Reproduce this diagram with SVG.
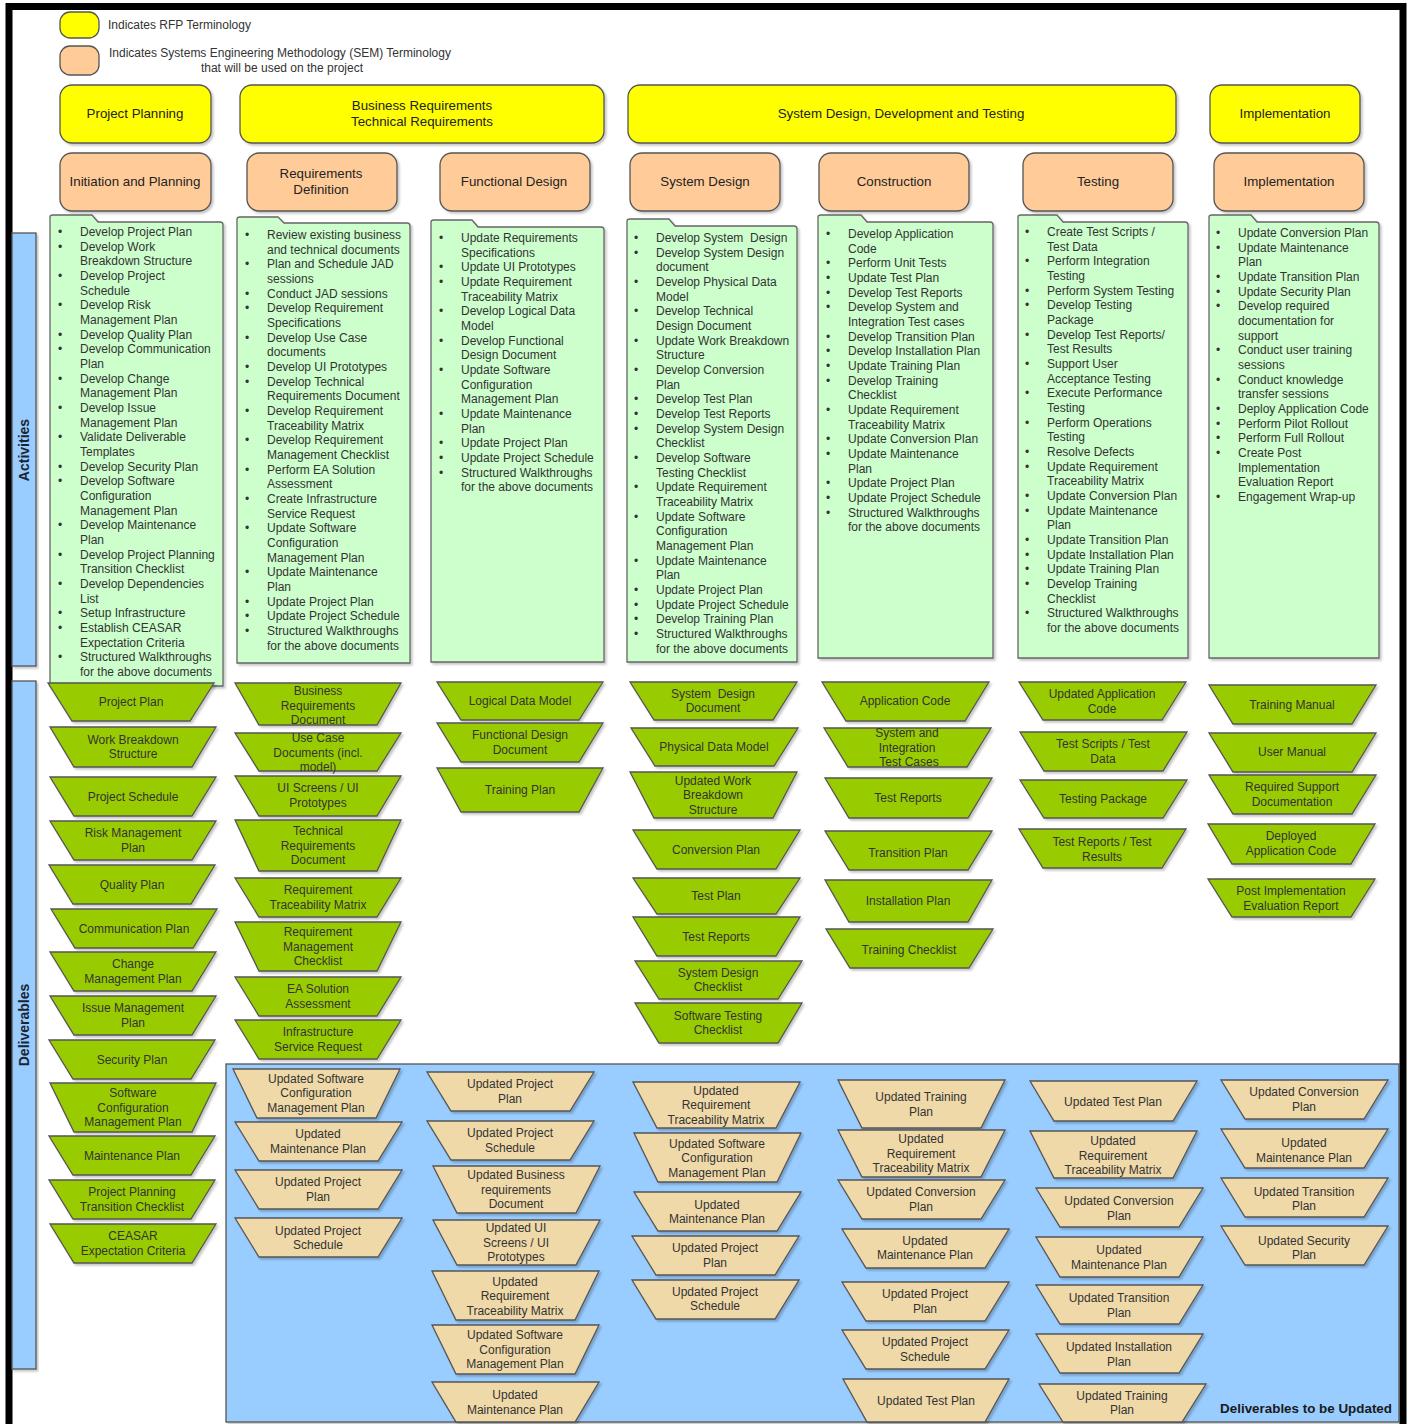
<svg xmlns="http://www.w3.org/2000/svg" width="1410" height="1424" viewBox="0 0 1410 1424">
<defs>
<filter id="ds" x="-5%" y="-5%" width="115%" height="115%"><feDropShadow dx="2" dy="2" stdDeviation="1" flood-color="#000" flood-opacity="0.22"/></filter>
</defs>
<style>
.sh{filter:url(#ds)}
.yl{fill:#ffff00;stroke:#555;stroke-width:1.3}
.or{fill:#ffcc99;stroke:#555;stroke-width:1.3}
.ac{fill:#ccffcc;stroke:#666;stroke-width:1.3}
.gd{fill:#99cc00;stroke:#555;stroke-width:1.3}
.td{fill:#f0d9a8;stroke:#555;stroke-width:1.3}
.bl{fill:#99ccff;stroke:#555;stroke-width:1.3}
text{font-family:"Liberation Sans",Arial,sans-serif}
.t{font-size:12px;fill:#333}
.c{text-anchor:middle}
.h{font-size:13.3px;fill:#222}
.lab{font-size:14px;font-weight:bold;fill:#1a2533}
</style>
<rect x="9" y="6.5" width="1394" height="1440" fill="#fff" stroke="#000" stroke-width="7"/>

<g id="legend">
<rect class="yl" x="60" y="12" width="39" height="26" rx="10"/>
<text class="t" x="108" y="29">Indicates RFP Terminology</text>
<rect class="or" x="60" y="46" width="39" height="29" rx="10"/>
<text class="t" x="109" y="57">Indicates Systems Engineering Methodology (SEM) Terminology</text>
<text class="t c" x="282" y="72">that will be used on the project</text>
</g>

<g id="rfp-project-planning"><rect class="yl sh" x="60" y="85" width="151" height="58" rx="12"/><text class="h c" x="135" y="118">Project Planning</text></g>
<g id="rfp-requirements"><rect class="yl sh" x="240" y="85" width="364" height="58" rx="12"/><text class="h c" x="422" y="110">Business Requirements<tspan x="422" dy="16">Technical Requirements</tspan></text></g>
<g id="rfp-sddt"><rect class="yl sh" x="628" y="85" width="548" height="58" rx="12"/><text class="h c" x="901" y="118">System Design, Development and Testing</text></g>
<g id="rfp-implementation"><rect class="yl sh" x="1210" y="85" width="150" height="58" rx="12"/><text class="h c" x="1285" y="118">Implementation</text></g>

<g id="sem-initiation"><rect class="or sh" x="60" y="153" width="151" height="58" rx="12"/><text class="h c" x="135" y="186">Initiation and Planning</text></g>
<g id="sem-requirements"><rect class="or sh" x="247" y="153" width="150" height="58" rx="12"/><text class="h c" x="321" y="178">Requirements<tspan x="321" dy="16">Definition</tspan></text></g>
<g id="sem-functional"><rect class="or sh" x="440" y="153" width="150" height="58" rx="12"/><text class="h c" x="514" y="186">Functional Design</text></g>
<g id="sem-system-design"><rect class="or sh" x="630" y="153" width="150" height="58" rx="12"/><text class="h c" x="705" y="186">System Design</text></g>
<g id="sem-construction"><rect class="or sh" x="819" y="153" width="150" height="58" rx="12"/><text class="h c" x="894" y="186">Construction</text></g>
<g id="sem-testing"><rect class="or sh" x="1023" y="153" width="150" height="58" rx="12"/><text class="h c" x="1098" y="186">Testing</text></g>
<g id="sem-implementation"><rect class="or sh" x="1214" y="153" width="150" height="58" rx="12"/><text class="h c" x="1289" y="186">Implementation</text></g>

<g id="side-labels">
<rect class="bl sh" x="12" y="233" width="24" height="433"/>
<text class="lab c" transform="translate(29 450) rotate(-90)">Activities</text>
<rect class="bl sh" x="12" y="681" width="24" height="688"/>
<text class="lab c" transform="translate(29 1025) rotate(-90)">Deliverables</text>
</g>

<g id="updated-area">
<rect class="bl sh" x="226" y="1064" width="1173" height="358"/>
<text x="1392" y="1413" text-anchor="end" style="font-size:13.4px;font-weight:bold;fill:#1a1a1a">Deliverables to be Updated</text>
</g>

<g id="act-initiation">
<path class="ac sh" d="M50,222 L50,217 Q50,215 53,215 L92,215 L98,222 L220,222 Q223,222 223,225 L223,686 L50,686 Z"/>
<text class="t" x="80" y="221.33"><tspan x="58" dy="14.67">•</tspan><tspan x="80">Develop Project Plan</tspan><tspan x="58" dy="14.67">•</tspan><tspan x="80">Develop Work</tspan><tspan x="80" dy="14.67">Breakdown Structure</tspan><tspan x="58" dy="14.67">•</tspan><tspan x="80">Develop Project</tspan><tspan x="80" dy="14.67">Schedule</tspan><tspan x="58" dy="14.67">•</tspan><tspan x="80">Develop Risk</tspan><tspan x="80" dy="14.67">Management Plan</tspan><tspan x="58" dy="14.67">•</tspan><tspan x="80">Develop Quality Plan</tspan><tspan x="58" dy="14.67">•</tspan><tspan x="80">Develop Communication</tspan><tspan x="80" dy="14.67">Plan</tspan><tspan x="58" dy="14.67">•</tspan><tspan x="80">Develop Change</tspan><tspan x="80" dy="14.67">Management Plan</tspan><tspan x="58" dy="14.67">•</tspan><tspan x="80">Develop Issue</tspan><tspan x="80" dy="14.67">Management Plan</tspan><tspan x="58" dy="14.67">•</tspan><tspan x="80">Validate Deliverable</tspan><tspan x="80" dy="14.67">Templates</tspan><tspan x="58" dy="14.67">•</tspan><tspan x="80">Develop Security Plan</tspan><tspan x="58" dy="14.67">•</tspan><tspan x="80">Develop Software</tspan><tspan x="80" dy="14.67">Configuration</tspan><tspan x="80" dy="14.67">Management Plan</tspan><tspan x="58" dy="14.67">•</tspan><tspan x="80">Develop Maintenance</tspan><tspan x="80" dy="14.67">Plan</tspan><tspan x="58" dy="14.67">•</tspan><tspan x="80">Develop Project Planning</tspan><tspan x="80" dy="14.67">Transition Checklist</tspan><tspan x="58" dy="14.67">•</tspan><tspan x="80">Develop Dependencies</tspan><tspan x="80" dy="14.67">List</tspan><tspan x="58" dy="14.67">•</tspan><tspan x="80">Setup Infrastructure</tspan><tspan x="58" dy="14.67">•</tspan><tspan x="80">Establish CEASAR</tspan><tspan x="80" dy="14.67">Expectation Criteria</tspan><tspan x="58" dy="14.67">•</tspan><tspan x="80">Structured Walkthroughs</tspan><tspan x="80" dy="14.67">for the above documents</tspan></text>
</g>

<g id="act-requirements">
<path class="ac sh" d="M237,223 L237,219 Q237,217 240,217 L278,217 L284,223 L407,223 Q410,223 410,226 L410,663 L237,663 Z"/>
<text class="t" x="267" y="224.33"><tspan x="245" dy="14.67">•</tspan><tspan x="267">Review existing business</tspan><tspan x="267" dy="14.67">and technical documents</tspan><tspan x="245" dy="14.67">•</tspan><tspan x="267">Plan and Schedule JAD</tspan><tspan x="267" dy="14.67">sessions</tspan><tspan x="245" dy="14.67">•</tspan><tspan x="267">Conduct JAD sessions</tspan><tspan x="245" dy="14.67">•</tspan><tspan x="267">Develop Requirement</tspan><tspan x="267" dy="14.67">Specifications</tspan><tspan x="245" dy="14.67">•</tspan><tspan x="267">Develop Use Case</tspan><tspan x="267" dy="14.67">documents</tspan><tspan x="245" dy="14.67">•</tspan><tspan x="267">Develop UI Prototypes</tspan><tspan x="245" dy="14.67">•</tspan><tspan x="267">Develop Technical</tspan><tspan x="267" dy="14.67">Requirements Document</tspan><tspan x="245" dy="14.67">•</tspan><tspan x="267">Develop Requirement</tspan><tspan x="267" dy="14.67">Traceability Matrix</tspan><tspan x="245" dy="14.67">•</tspan><tspan x="267">Develop Requirement</tspan><tspan x="267" dy="14.67">Management Checklist</tspan><tspan x="245" dy="14.67">•</tspan><tspan x="267">Perform EA Solution</tspan><tspan x="267" dy="14.67">Assessment</tspan><tspan x="245" dy="14.67">•</tspan><tspan x="267">Create Infrastructure</tspan><tspan x="267" dy="14.67">Service Request</tspan><tspan x="245" dy="14.67">•</tspan><tspan x="267">Update Software</tspan><tspan x="267" dy="14.67">Configuration</tspan><tspan x="267" dy="14.67">Management Plan</tspan><tspan x="245" dy="14.67">•</tspan><tspan x="267">Update Maintenance</tspan><tspan x="267" dy="14.67">Plan</tspan><tspan x="245" dy="14.67">•</tspan><tspan x="267">Update Project Plan</tspan><tspan x="245" dy="14.67">•</tspan><tspan x="267">Update Project Schedule</tspan><tspan x="245" dy="14.67">•</tspan><tspan x="267">Structured Walkthroughs</tspan><tspan x="267" dy="14.67">for the above documents</tspan></text>
</g>

<g id="act-functional">
<path class="ac sh" d="M431,227 L431,222 Q431,220 434,220 L472,220 L478,227 L601,227 Q604,227 604,230 L604,662 L431,662 Z"/>
<text class="t" x="461" y="227.33"><tspan x="439" dy="14.67">•</tspan><tspan x="461">Update Requirements</tspan><tspan x="461" dy="14.67">Specifications</tspan><tspan x="439" dy="14.67">•</tspan><tspan x="461">Update UI Prototypes</tspan><tspan x="439" dy="14.67">•</tspan><tspan x="461">Update Requirement</tspan><tspan x="461" dy="14.67">Traceability Matrix</tspan><tspan x="439" dy="14.67">•</tspan><tspan x="461">Develop Logical Data</tspan><tspan x="461" dy="14.67">Model</tspan><tspan x="439" dy="14.67">•</tspan><tspan x="461">Develop Functional</tspan><tspan x="461" dy="14.67">Design Document</tspan><tspan x="439" dy="14.67">•</tspan><tspan x="461">Update Software</tspan><tspan x="461" dy="14.67">Configuration</tspan><tspan x="461" dy="14.67">Management Plan</tspan><tspan x="439" dy="14.67">•</tspan><tspan x="461">Update Maintenance</tspan><tspan x="461" dy="14.67">Plan</tspan><tspan x="439" dy="14.67">•</tspan><tspan x="461">Update Project Plan</tspan><tspan x="439" dy="14.67">•</tspan><tspan x="461">Update Project Schedule</tspan><tspan x="439" dy="14.67">•</tspan><tspan x="461">Structured Walkthroughs</tspan><tspan x="461" dy="14.67">for the above documents</tspan></text>
</g>

<g id="act-system-design">
<path class="ac sh" d="M627,226 L627,221 Q627,219 630,219 L669,219 L675,226 L794,226 Q797,226 797,229 L797,662 L627,662 Z"/>
<text class="t" x="656" y="227.33"><tspan x="634" dy="14.67">•</tspan><tspan x="656">Develop System&#160; Design</tspan><tspan x="634" dy="14.67">•</tspan><tspan x="656">Develop System Design</tspan><tspan x="656" dy="14.67">document</tspan><tspan x="634" dy="14.67">•</tspan><tspan x="656">Develop Physical Data</tspan><tspan x="656" dy="14.67">Model</tspan><tspan x="634" dy="14.67">•</tspan><tspan x="656">Develop Technical</tspan><tspan x="656" dy="14.67">Design Document</tspan><tspan x="634" dy="14.67">•</tspan><tspan x="656">Update Work Breakdown</tspan><tspan x="656" dy="14.67">Structure</tspan><tspan x="634" dy="14.67">•</tspan><tspan x="656">Develop Conversion</tspan><tspan x="656" dy="14.67">Plan</tspan><tspan x="634" dy="14.67">•</tspan><tspan x="656">Develop Test Plan</tspan><tspan x="634" dy="14.67">•</tspan><tspan x="656">Develop Test Reports</tspan><tspan x="634" dy="14.67">•</tspan><tspan x="656">Develop System Design</tspan><tspan x="656" dy="14.67">Checklist</tspan><tspan x="634" dy="14.67">•</tspan><tspan x="656">Develop Software</tspan><tspan x="656" dy="14.67">Testing Checklist</tspan><tspan x="634" dy="14.67">•</tspan><tspan x="656">Update Requirement</tspan><tspan x="656" dy="14.67">Traceability Matrix</tspan><tspan x="634" dy="14.67">•</tspan><tspan x="656">Update Software</tspan><tspan x="656" dy="14.67">Configuration</tspan><tspan x="656" dy="14.67">Management Plan</tspan><tspan x="634" dy="14.67">•</tspan><tspan x="656">Update Maintenance</tspan><tspan x="656" dy="14.67">Plan</tspan><tspan x="634" dy="14.67">•</tspan><tspan x="656">Update Project Plan</tspan><tspan x="634" dy="14.67">•</tspan><tspan x="656">Update Project Schedule</tspan><tspan x="634" dy="14.67">•</tspan><tspan x="656">Develop Training Plan</tspan><tspan x="634" dy="14.67">•</tspan><tspan x="656">Structured Walkthroughs</tspan><tspan x="656" dy="14.67">for the above documents</tspan></text>
</g>

<g id="act-construction">
<path class="ac sh" d="M818,222 L818,217 Q818,215 821,215 L861,215 L867,222 L990,222 Q993,222 993,225 L993,658 L818,658 Z"/>
<text class="t" x="848" y="223.33"><tspan x="826" dy="14.67">•</tspan><tspan x="848">Develop Application</tspan><tspan x="848" dy="14.67">Code</tspan><tspan x="826" dy="14.67">•</tspan><tspan x="848">Perform Unit Tests</tspan><tspan x="826" dy="14.67">•</tspan><tspan x="848">Update Test Plan</tspan><tspan x="826" dy="14.67">•</tspan><tspan x="848">Develop Test Reports</tspan><tspan x="826" dy="14.67">•</tspan><tspan x="848">Develop System and</tspan><tspan x="848" dy="14.67">Integration Test cases</tspan><tspan x="826" dy="14.67">•</tspan><tspan x="848">Develop Transition Plan</tspan><tspan x="826" dy="14.67">•</tspan><tspan x="848">Develop Installation Plan</tspan><tspan x="826" dy="14.67">•</tspan><tspan x="848">Update Training Plan</tspan><tspan x="826" dy="14.67">•</tspan><tspan x="848">Develop Training</tspan><tspan x="848" dy="14.67">Checklist</tspan><tspan x="826" dy="14.67">•</tspan><tspan x="848">Update Requirement</tspan><tspan x="848" dy="14.67">Traceability Matrix</tspan><tspan x="826" dy="14.67">•</tspan><tspan x="848">Update Conversion Plan</tspan><tspan x="826" dy="14.67">•</tspan><tspan x="848">Update Maintenance</tspan><tspan x="848" dy="14.67">Plan</tspan><tspan x="826" dy="14.67">•</tspan><tspan x="848">Update Project Plan</tspan><tspan x="826" dy="14.67">•</tspan><tspan x="848">Update Project Schedule</tspan><tspan x="826" dy="14.67">•</tspan><tspan x="848">Structured Walkthroughs</tspan><tspan x="848" dy="14.67">for the above documents</tspan></text>
</g>

<g id="act-testing">
<path class="ac sh" d="M1018,222 L1018,217 Q1018,215 1021,215 L1057,215 L1063,222 L1185,222 Q1188,222 1188,225 L1188,658 L1018,658 Z"/>
<text class="t" x="1047" y="221.33"><tspan x="1025" dy="14.67">•</tspan><tspan x="1047">Create Test Scripts /</tspan><tspan x="1047" dy="14.67">Test Data</tspan><tspan x="1025" dy="14.67">•</tspan><tspan x="1047">Perform Integration</tspan><tspan x="1047" dy="14.67">Testing</tspan><tspan x="1025" dy="14.67">•</tspan><tspan x="1047">Perform System Testing</tspan><tspan x="1025" dy="14.67">•</tspan><tspan x="1047">Develop Testing</tspan><tspan x="1047" dy="14.67">Package</tspan><tspan x="1025" dy="14.67">•</tspan><tspan x="1047">Develop Test Reports/</tspan><tspan x="1047" dy="14.67">Test Results</tspan><tspan x="1025" dy="14.67">•</tspan><tspan x="1047">Support User</tspan><tspan x="1047" dy="14.67">Acceptance Testing</tspan><tspan x="1025" dy="14.67">•</tspan><tspan x="1047">Execute Performance</tspan><tspan x="1047" dy="14.67">Testing</tspan><tspan x="1025" dy="14.67">•</tspan><tspan x="1047">Perform Operations</tspan><tspan x="1047" dy="14.67">Testing</tspan><tspan x="1025" dy="14.67">•</tspan><tspan x="1047">Resolve Defects</tspan><tspan x="1025" dy="14.67">•</tspan><tspan x="1047">Update Requirement</tspan><tspan x="1047" dy="14.67">Traceability Matrix</tspan><tspan x="1025" dy="14.67">•</tspan><tspan x="1047">Update Conversion Plan</tspan><tspan x="1025" dy="14.67">•</tspan><tspan x="1047">Update Maintenance</tspan><tspan x="1047" dy="14.67">Plan</tspan><tspan x="1025" dy="14.67">•</tspan><tspan x="1047">Update Transition Plan</tspan><tspan x="1025" dy="14.67">•</tspan><tspan x="1047">Update Installation Plan</tspan><tspan x="1025" dy="14.67">•</tspan><tspan x="1047">Update Training Plan</tspan><tspan x="1025" dy="14.67">•</tspan><tspan x="1047">Develop Training</tspan><tspan x="1047" dy="14.67">Checklist</tspan><tspan x="1025" dy="14.67">•</tspan><tspan x="1047">Structured Walkthroughs</tspan><tspan x="1047" dy="14.67">for the above documents</tspan></text>
</g>

<g id="act-implementation">
<path class="ac sh" d="M1209,222 L1209,217 Q1209,215 1212,215 L1251,215 L1257,222 L1376,222 Q1379,222 1379,225 L1379,658 L1209,658 Z"/>
<text class="t" x="1238" y="222.33"><tspan x="1216" dy="14.67">•</tspan><tspan x="1238">Update Conversion Plan</tspan><tspan x="1216" dy="14.67">•</tspan><tspan x="1238">Update Maintenance</tspan><tspan x="1238" dy="14.67">Plan</tspan><tspan x="1216" dy="14.67">•</tspan><tspan x="1238">Update Transition Plan</tspan><tspan x="1216" dy="14.67">•</tspan><tspan x="1238">Update Security Plan</tspan><tspan x="1216" dy="14.67">•</tspan><tspan x="1238">Develop required</tspan><tspan x="1238" dy="14.67">documentation for</tspan><tspan x="1238" dy="14.67">support</tspan><tspan x="1216" dy="14.67">•</tspan><tspan x="1238">Conduct user training</tspan><tspan x="1238" dy="14.67">sessions</tspan><tspan x="1216" dy="14.67">•</tspan><tspan x="1238">Conduct knowledge</tspan><tspan x="1238" dy="14.67">transfer sessions</tspan><tspan x="1216" dy="14.67">•</tspan><tspan x="1238">Deploy Application Code</tspan><tspan x="1216" dy="14.67">•</tspan><tspan x="1238">Perform Pilot Rollout</tspan><tspan x="1216" dy="14.67">•</tspan><tspan x="1238">Perform Full Rollout</tspan><tspan x="1216" dy="14.67">•</tspan><tspan x="1238">Create Post</tspan><tspan x="1238" dy="14.67">Implementation</tspan><tspan x="1238" dy="14.67">Evaluation Report</tspan><tspan x="1216" dy="14.67">•</tspan><tspan x="1238">Engagement Wrap-up</tspan></text>
</g>

<!-- Deliverables: column 1 -->
<g id="d-project-plan"><polygon class="gd sh" points="48,683 214,683 190,721 72,721"/><text class="t c" x="131" y="706">Project Plan</text></g>
<g id="d-wbs"><polygon class="gd sh" points="50,727 216,727 192,767 74,767"/><text class="t c" x="133" y="743.5">Work Breakdown<tspan x="133" dy="14.5">Structure</tspan></text></g>
<g id="d-project-schedule"><polygon class="gd sh" points="50,777 216,777 192,816 74,816"/><text class="t c" x="133" y="800.5">Project Schedule</text></g>
<g id="d-risk"><polygon class="gd sh" points="50,821 216,821 192,860 74,860"/><text class="t c" x="133" y="837">Risk Management<tspan x="133" dy="14.5">Plan</tspan></text></g>
<g id="d-quality"><polygon class="gd sh" points="49,865 215,865 191,904 73,904"/><text class="t c" x="132" y="888.5">Quality Plan</text></g>
<g id="d-communication"><polygon class="gd sh" points="51,909 217,909 193,948 75,948"/><text class="t c" x="134" y="932.5">Communication Plan</text></g>
<g id="d-change"><polygon class="gd sh" points="50,952 216,952 192,991 74,991"/><text class="t c" x="133" y="968">Change<tspan x="133" dy="14.5">Management Plan</tspan></text></g>
<g id="d-issue"><polygon class="gd sh" points="50,996 216,996 192,1035 74,1035"/><text class="t c" x="133" y="1012">Issue Management<tspan x="133" dy="14.5">Plan</tspan></text></g>
<g id="d-security"><polygon class="gd sh" points="49,1040 215,1040 191,1079 73,1079"/><text class="t c" x="132" y="1063.5">Security Plan</text></g>
<g id="d-scm"><polygon class="gd sh" points="50,1083 216,1083 192,1132 74,1132"/><text class="t c" x="133" y="1097">Software<tspan x="133" dy="14.5">Configuration</tspan><tspan x="133" dy="14.5">Management Plan</tspan></text></g>
<g id="d-maintenance"><polygon class="gd sh" points="49,1136 215,1136 191,1175 73,1175"/><text class="t c" x="132" y="1159.5">Maintenance Plan</text></g>
<g id="d-pp-transition"><polygon class="gd sh" points="49,1180 215,1180 191,1219 73,1219"/><text class="t c" x="132" y="1196">Project Planning<tspan x="132" dy="14.5">Transition Checklist</tspan></text></g>
<g id="d-ceasar"><polygon class="gd sh" points="50,1224 216,1224 192,1263 74,1263"/><text class="t c" x="133" y="1240">CEASAR<tspan x="133" dy="14.5">Expectation Criteria</tspan></text></g>

<!-- Deliverables: column 2 -->
<g id="d-brd"><polygon class="gd sh" points="235,683 401,683 377,725 259,725"/><text class="t c" x="318" y="695">Business<tspan x="318" dy="14.5">Requirements</tspan><tspan x="318" dy="14.5">Document</tspan></text></g>
<g id="d-use-case"><polygon class="gd sh" points="235,733 401,733 377,771 259,771"/><text class="t c" x="318" y="742">Use Case<tspan x="318" dy="14.5">Documents (incl.</tspan><tspan x="318" dy="14.5">model)</tspan></text></g>
<g id="d-ui"><polygon class="gd sh" points="235,776 401,776 377,816 259,816"/><text class="t c" x="318" y="792">UI Screens / UI<tspan x="318" dy="14.5">Prototypes</tspan></text></g>
<g id="d-trd"><polygon class="gd sh" points="235,820 401,820 377,871 259,871"/><text class="t c" x="318" y="835">Technical<tspan x="318" dy="14.5">Requirements</tspan><tspan x="318" dy="14.5">Document</tspan></text></g>
<g id="d-rtm"><polygon class="gd sh" points="235,878 401,878 377,917 259,917"/><text class="t c" x="318" y="894">Requirement<tspan x="318" dy="14.5">Traceability Matrix</tspan></text></g>
<g id="d-rmc"><polygon class="gd sh" points="235,922 401,922 377,971 259,971"/><text class="t c" x="318" y="936">Requirement<tspan x="318" dy="14.5">Management</tspan><tspan x="318" dy="14.5">Checklist</tspan></text></g>
<g id="d-ea"><polygon class="gd sh" points="235,977 401,977 377,1016 259,1016"/><text class="t c" x="318" y="993">EA Solution<tspan x="318" dy="14.5">Assessment</tspan></text></g>
<g id="d-infra"><polygon class="gd sh" points="235,1020 401,1020 377,1059 259,1059"/><text class="t c" x="318" y="1036">Infrastructure<tspan x="318" dy="14.5">Service Request</tspan></text></g>

<!-- Deliverables: column 3 -->
<g id="d-ldm"><polygon class="gd sh" points="437,682 603,682 579,720 461,720"/><text class="t c" x="520" y="705">Logical Data Model</text></g>
<g id="d-fdd"><polygon class="gd sh" points="437,723 603,723 579,762 461,762"/><text class="t c" x="520" y="739">Functional Design<tspan x="520" dy="14.5">Document</tspan></text></g>
<g id="d-training-plan"><polygon class="gd sh" points="437,768 603,768 579,812 461,812"/><text class="t c" x="520" y="794">Training Plan</text></g>

<!-- Deliverables: column 4 -->
<g id="d-sdd"><polygon class="gd sh" points="630,682 797,682 773,720 654,720"/><text class="t c" x="713" y="697.5" style="white-space:pre">System  Design<tspan x="713" dy="14.5">Document</tspan></text></g>
<g id="d-pdm"><polygon class="gd sh" points="631,728 798,728 774,766 655,766"/><text class="t c" x="714" y="751">Physical Data Model</text></g>
<g id="d-uwbs"><polygon class="gd sh" points="630,772 797,772 773,818 654,818"/><text class="t c" x="713" y="784.5">Updated Work<tspan x="713" dy="14.5">Breakdown</tspan><tspan x="713" dy="14.5">Structure</tspan></text></g>
<g id="d-conversion"><polygon class="gd sh" points="633,830 800,830 776,869 657,869"/><text class="t c" x="716" y="853.5">Conversion Plan</text></g>
<g id="d-test-plan"><polygon class="gd sh" points="633,878 800,878 776,914 657,914"/><text class="t c" x="716" y="900">Test Plan</text></g>
<g id="d-test-reports-sd"><polygon class="gd sh" points="633,917 800,917 776,956 657,956"/><text class="t c" x="716" y="940.5">Test Reports</text></g>
<g id="d-sdc"><polygon class="gd sh" points="635,961 802,961 778,999 659,999"/><text class="t c" x="718" y="976.5">System Design<tspan x="718" dy="14.5">Checklist</tspan></text></g>
<g id="d-stc"><polygon class="gd sh" points="635,1003 802,1003 778,1043 659,1043"/><text class="t c" x="718" y="1019.5">Software Testing<tspan x="718" dy="14.5">Checklist</tspan></text></g>

<!-- Deliverables: column 5 -->
<g id="d-app-code"><polygon class="gd sh" points="822,682 989,682 965,721 846,721"/><text class="t c" x="905" y="705">Application Code</text></g>
<g id="d-sitc"><polygon class="gd sh" points="824,728 991,728 967,767 848,767"/><text class="t c" x="907" y="737">System and<tspan x="907" dy="14.5">Integration</tspan><tspan x="909" dy="14.5">Test Cases</tspan></text></g>
<g id="d-test-reports-c"><polygon class="gd sh" points="825,778 992,778 968,818 849,818"/><text class="t c" x="908" y="802">Test Reports</text></g>
<g id="d-transition"><polygon class="gd sh" points="825,831 992,831 968,870 849,870"/><text class="t c" x="908" y="856.5">Transition Plan</text></g>
<g id="d-installation"><polygon class="gd sh" points="825,880 992,880 968,922 849,922"/><text class="t c" x="908" y="905">Installation Plan</text></g>
<g id="d-training-checklist"><polygon class="gd sh" points="826,929 993,929 969,968 850,968"/><text class="t c" x="909" y="953.5">Training Checklist</text></g>

<!-- Deliverables: column 6 -->
<g id="d-uapp-code"><polygon class="gd sh" points="1019,682 1186,682 1162,720 1043,720"/><text class="t c" x="1102" y="698">Updated Application<tspan x="1102" dy="14.5">Code</tspan></text></g>
<g id="d-scripts"><polygon class="gd sh" points="1020,732 1187,732 1163,771 1044,771"/><text class="t c" x="1103" y="748">Test Scripts / Test<tspan x="1103" dy="14.5">Data</tspan></text></g>
<g id="d-testing-package"><polygon class="gd sh" points="1020,780 1187,780 1163,818 1044,818"/><text class="t c" x="1103" y="803">Testing Package</text></g>
<g id="d-test-results"><polygon class="gd sh" points="1019,829 1186,829 1162,868 1043,868"/><text class="t c" x="1102" y="846">Test Reports / Test<tspan x="1102" dy="14.5">Results</tspan></text></g>

<!-- Deliverables: column 7 -->
<g id="d-training-manual"><polygon class="gd sh" points="1209,685 1376,685 1352,724 1233,724"/><text class="t c" x="1292" y="708.5">Training Manual</text></g>
<g id="d-user-manual"><polygon class="gd sh" points="1209,733 1376,733 1352,772 1233,772"/><text class="t c" x="1292" y="755.5">User Manual</text></g>
<g id="d-support-doc"><polygon class="gd sh" points="1209,775 1376,775 1352,814 1233,814"/><text class="t c" x="1292" y="791">Required Support<tspan x="1292" dy="14.5">Documentation</tspan></text></g>
<g id="d-deployed"><polygon class="gd sh" points="1208,824 1375,824 1351,864 1232,864"/><text class="t c" x="1291" y="840">Deployed<tspan x="1291" dy="14.5">Application Code</tspan></text></g>
<g id="d-pier"><polygon class="gd sh" points="1208,879 1375,879 1351,917 1232,917"/><text class="t c" x="1291" y="895">Post Implementation<tspan x="1291" dy="14.5">Evaluation Report</tspan></text></g>

<!-- Updated deliverables: column A -->
<g id="u-a-scm"><polygon class="td sh" points="233,1069 400,1069 376,1118 257,1118"/><text class="t c" x="316" y="1082.5">Updated Software<tspan x="316" dy="14.5">Configuration</tspan><tspan x="316" dy="14.5">Management Plan</tspan></text></g>
<g id="u-a-maint"><polygon class="td sh" points="235,1122 402,1122 378,1161 259,1161"/><text class="t c" x="318" y="1138">Updated<tspan x="318" dy="14.5">Maintenance Plan</tspan></text></g>
<g id="u-a-pp"><polygon class="td sh" points="235,1170 402,1170 378,1209 259,1209"/><text class="t c" x="318" y="1186">Updated Project<tspan x="318" dy="14.5">Plan</tspan></text></g>
<g id="u-a-ps"><polygon class="td sh" points="235,1218 402,1218 378,1257 259,1257"/><text class="t c" x="318" y="1234.5">Updated Project<tspan x="318" dy="14.5">Schedule</tspan></text></g>

<!-- Updated deliverables: column B -->
<g id="u-b-pp"><polygon class="td sh" points="427,1072 594,1072 570,1111 451,1111"/><text class="t c" x="510" y="1088">Updated Project<tspan x="510" dy="14.5">Plan</tspan></text></g>
<g id="u-b-ps"><polygon class="td sh" points="427,1121 594,1121 570,1160 451,1160"/><text class="t c" x="510" y="1137">Updated Project<tspan x="510" dy="14.5">Schedule</tspan></text></g>
<g id="u-b-brd"><polygon class="td sh" points="433,1166 600,1166 576,1213 457,1213"/><text class="t c" x="516" y="1179">Updated Business<tspan x="516" dy="14.5">requirements</tspan><tspan x="516" dy="14.5">Document</tspan></text></g>
<g id="u-b-ui"><polygon class="td sh" points="433,1220 600,1220 576,1265 457,1265"/><text class="t c" x="516" y="1232">Updated UI<tspan x="516" dy="14.5">Screens / UI</tspan><tspan x="516" dy="14.5">Prototypes</tspan></text></g>
<g id="u-b-rtm"><polygon class="td sh" points="432,1271 599,1271 575,1320 456,1320"/><text class="t c" x="515" y="1285.5">Updated<tspan x="515" dy="14.5">Requirement</tspan><tspan x="515" dy="14.5">Traceability Matrix</tspan></text></g>
<g id="u-b-scm"><polygon class="td sh" points="432,1325 599,1325 575,1374 456,1374"/><text class="t c" x="515" y="1339">Updated Software<tspan x="515" dy="14.5">Configuration</tspan><tspan x="515" dy="14.5">Management Plan</tspan></text></g>
<g id="u-b-maint"><polygon class="td sh" points="432,1382 599,1382 575,1422 456,1422"/><text class="t c" x="515" y="1399">Updated<tspan x="515" dy="14.5">Maintenance Plan</tspan></text></g>

<!-- Updated deliverables: column C -->
<g id="u-c-rtm"><polygon class="td sh" points="633,1082 800,1082 776,1128 657,1128"/><text class="t c" x="716" y="1094.5">Updated<tspan x="716" dy="14.5">Requirement</tspan><tspan x="716" dy="14.5">Traceability Matrix</tspan></text></g>
<g id="u-c-scm"><polygon class="td sh" points="634,1133 801,1133 777,1182 658,1182"/><text class="t c" x="717" y="1147.5">Updated Software<tspan x="717" dy="14.5">Configuration</tspan><tspan x="717" dy="14.5">Management Plan</tspan></text></g>
<g id="u-c-maint"><polygon class="td sh" points="634,1192 801,1192 777,1231 658,1231"/><text class="t c" x="717" y="1208.5">Updated<tspan x="717" dy="14.5">Maintenance Plan</tspan></text></g>
<g id="u-c-pp"><polygon class="td sh" points="632,1236 799,1236 775,1275 656,1275"/><text class="t c" x="715" y="1252">Updated Project<tspan x="715" dy="14.5">Plan</tspan></text></g>
<g id="u-c-ps"><polygon class="td sh" points="632,1280 799,1280 775,1319 656,1319"/><text class="t c" x="715" y="1295.5">Updated Project<tspan x="715" dy="14.5">Schedule</tspan></text></g>

<!-- Updated deliverables: column D -->
<g id="u-d-tp"><polygon class="td sh" points="838,1080 1005,1080 981,1128 862,1128"/><text class="t c" x="921" y="1101">Updated Training<tspan x="921" dy="14.5">Plan</tspan></text></g>
<g id="u-d-rtm"><polygon class="td sh" points="838,1130 1005,1130 981,1177 862,1177"/><text class="t c" x="921" y="1143">Updated<tspan x="921" dy="14.5">Requirement</tspan><tspan x="921" dy="14.5">Traceability Matrix</tspan></text></g>
<g id="u-d-conv"><polygon class="td sh" points="838,1180 1005,1180 981,1219 862,1219"/><text class="t c" x="921" y="1196">Updated Conversion<tspan x="921" dy="14.5">Plan</tspan></text></g>
<g id="u-d-maint"><polygon class="td sh" points="842,1229 1009,1229 985,1268 866,1268"/><text class="t c" x="925" y="1244.5">Updated<tspan x="925" dy="14.5">Maintenance Plan</tspan></text></g>
<g id="u-d-pp"><polygon class="td sh" points="842,1282 1009,1282 985,1321 866,1321"/><text class="t c" x="925" y="1298">Updated Project<tspan x="925" dy="14.5">Plan</tspan></text></g>
<g id="u-d-ps"><polygon class="td sh" points="842,1330 1009,1330 985,1369 866,1369"/><text class="t c" x="925" y="1346">Updated Project<tspan x="925" dy="14.5">Schedule</tspan></text></g>
<g id="u-d-test"><polygon class="td sh" points="843,1379 1009,1379 985,1422 867,1422"/><text class="t c" x="926" y="1404.5">Updated Test Plan</text></g>

<!-- Updated deliverables: column E -->
<g id="u-e-test"><polygon class="td sh" points="1030,1081 1197,1081 1173,1121 1054,1121"/><text class="t c" x="1113" y="1106">Updated Test Plan</text></g>
<g id="u-e-rtm"><polygon class="td sh" points="1030,1131 1197,1131 1173,1178 1054,1178"/><text class="t c" x="1113" y="1145">Updated<tspan x="1113" dy="14.5">Requirement</tspan><tspan x="1113" dy="14.5">Traceability Matrix</tspan></text></g>
<g id="u-e-conv"><polygon class="td sh" points="1036,1188 1203,1188 1179,1227 1060,1227"/><text class="t c" x="1119" y="1205">Updated Conversion<tspan x="1119" dy="14.5">Plan</tspan></text></g>
<g id="u-e-maint"><polygon class="td sh" points="1036,1237 1203,1237 1179,1277 1060,1277"/><text class="t c" x="1119" y="1254">Updated<tspan x="1119" dy="14.5">Maintenance Plan</tspan></text></g>
<g id="u-e-trans"><polygon class="td sh" points="1036,1285 1203,1285 1179,1324 1060,1324"/><text class="t c" x="1119" y="1302">Updated Transition<tspan x="1119" dy="14.5">Plan</tspan></text></g>
<g id="u-e-inst"><polygon class="td sh" points="1036,1334 1203,1334 1179,1373 1060,1373"/><text class="t c" x="1119" y="1351">Updated Installation<tspan x="1119" dy="14.5">Plan</tspan></text></g>
<g id="u-e-train"><polygon class="td sh" points="1039,1384 1206,1384 1182,1422 1063,1422"/><text class="t c" x="1122" y="1399.5">Updated Training<tspan x="1122" dy="14.5">Plan</tspan></text></g>

<!-- Updated deliverables: column F -->
<g id="u-f-conv"><polygon class="td sh" points="1221,1080 1388,1080 1364,1119 1245,1119"/><text class="t c" x="1304" y="1096">Updated Conversion<tspan x="1304" dy="14.5">Plan</tspan></text></g>
<g id="u-f-maint"><polygon class="td sh" points="1221,1129 1388,1129 1364,1168 1245,1168"/><text class="t c" x="1304" y="1147">Updated<tspan x="1304" dy="14.5">Maintenance Plan</tspan></text></g>
<g id="u-f-trans"><polygon class="td sh" points="1221,1178 1388,1178 1364,1217 1245,1217"/><text class="t c" x="1304" y="1195.5">Updated Transition<tspan x="1304" dy="14.5">Plan</tspan></text></g>
<g id="u-f-sec"><polygon class="td sh" points="1221,1226 1388,1226 1364,1265 1245,1265"/><text class="t c" x="1304" y="1244.5">Updated Security<tspan x="1304" dy="14.5">Plan</tspan></text></g>

<g id="connectors"></g>
</svg>
